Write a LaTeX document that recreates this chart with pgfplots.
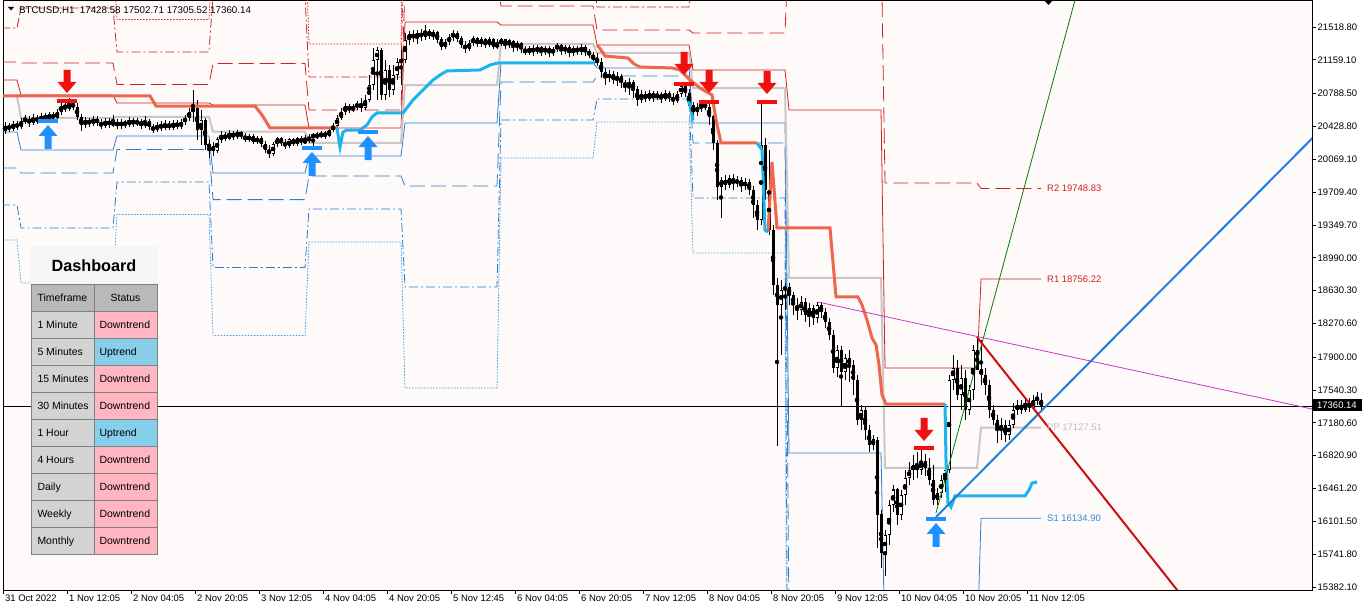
\documentclass[border=0pt]{standalone}
\usepackage{fontspec}
\setmainfont{Liberation Sans}
\usepackage{pgfplots}
\pgfplotsset{compat=1.18}
\usepackage{pgfplotstable}

\definecolor{bgpink}{RGB}{255,250,250}
\definecolor{pivR}{RGB}{208,32,32}
\definecolor{pivS}{RGB}{40,128,210}
\definecolor{pivS4}{RGB}{60,160,225}
\definecolor{ppgrey}{RGB}{200,200,200}
\definecolor{trailor}{RGB}{238,102,78}
\definecolor{trailcy}{RGB}{28,180,236}
\definecolor{tlblue}{RGB}{30,130,220}
\definecolor{tlred}{RGB}{205,15,15}
\definecolor{tlmag}{RGB}{205,50,205}
\definecolor{tlgreen}{RGB}{0,128,0}
\definecolor{arrred}{RGB}{240,16,16}
\definecolor{arrblue}{RGB}{30,144,255}
\definecolor{hdrgrey}{RGB}{185,185,185}
\definecolor{tfgrey}{RGB}{211,211,211}
\definecolor{dnpink}{RGB}{255,182,193}
\definecolor{upblue}{RGB}{135,206,235}
\definecolor{titlebg}{RGB}{245,245,245}
\definecolor{cellborder}{RGB}{128,128,128}
\definecolor{labgrey}{RGB}{190,190,190}
\definecolor{labblue}{RGB}{50,140,220}

\newcommand\tickfont{\fontsize{9.5}{11}\selectfont}
\newcommand\dashfont{\fontsize{10.5}{12}\selectfont}

\pgfdeclareplotmark{dnarrow}{%
  \pgfpathmoveto{\pgfqpoint{0bp}{0bp}}%
  \pgfpathlineto{\pgfqpoint{9.5bp}{11bp}}%
  \pgfpathlineto{\pgfqpoint{3.5bp}{11bp}}%
  \pgfpathlineto{\pgfqpoint{3.5bp}{23bp}}%
  \pgfpathlineto{\pgfqpoint{-3.5bp}{23bp}}%
  \pgfpathlineto{\pgfqpoint{-3.5bp}{11bp}}%
  \pgfpathlineto{\pgfqpoint{-9.5bp}{11bp}}%
  \pgfpathclose\pgfusepathqfill}
\pgfdeclareplotmark{uparrow}{%
  \pgfpathmoveto{\pgfqpoint{0bp}{0bp}}%
  \pgfpathlineto{\pgfqpoint{9.5bp}{-11bp}}%
  \pgfpathlineto{\pgfqpoint{3.5bp}{-11bp}}%
  \pgfpathlineto{\pgfqpoint{3.5bp}{-24bp}}%
  \pgfpathlineto{\pgfqpoint{-3.5bp}{-24bp}}%
  \pgfpathlineto{\pgfqpoint{-3.5bp}{-11bp}}%
  \pgfpathlineto{\pgfqpoint{-9.5bp}{-11bp}}%
  \pgfpathclose\pgfusepathqfill}
\pgfdeclareplotmark{hbar}{%
  \pgfpathrectangle{\pgfqpoint{-10bp}{-1.8bp}}{\pgfqpoint{20bp}{3.6bp}}\pgfusepathqfill}

% BTCUSD H1 candles: bar index, open, high, low, close
\pgfplotstableread{
x o h l c
0 20379 20478 20346 20434
1 20434 20467 20368 20401
2 20401 20489 20379 20456
3 20456 20489 20390 20423
4 20423 20522 20401 20489
5 20489 20555 20456 20511
6 20511 20544 20423 20467
7 20467 20566 20445 20522
8 20522 20555 20456 20489
9 20489 20577 20467 20544
10 20544 20577 20478 20511
11 20511 20587 20489 20555
12 20555 20587 20489 20522
13 20522 20620 20500 20587
14 20587 20697 20555 20653
15 20653 20708 20587 20620
16 20620 20741 20598 20675
17 20675 20719 20609 20642
18 20642 20686 20500 20533
19 20533 20566 20379 20445
20 20445 20533 20412 20500
21 20500 20522 20423 20456
22 20456 20544 20434 20511
23 20511 20544 20434 20467
24 20467 20511 20401 20434
25 20434 20522 20412 20489
26 20489 20522 20412 20445
27 20445 20555 20423 20477
28 20477 20511 20401 20434
29 20434 20511 20401 20478
30 20478 20500 20412 20445
31 20445 20533 20423 20500
32 20500 20522 20423 20456
33 20456 20522 20434 20489
34 20489 20511 20401 20434
35 20434 20544 20412 20489
36 20489 20511 20390 20423
37 20423 20456 20357 20390
38 20390 20478 20368 20445
39 20445 20489 20379 20412
40 20412 20500 20390 20456
41 20456 20489 20390 20412
42 20412 20500 20390 20467
43 20467 20500 20401 20423
44 20423 20511 20401 20478
45 20478 20555 20445 20522
46 20522 20631 20489 20587
47 20587 20829 20478 20631
48 20631 20719 20281 20390
49 20390 20609 20226 20500
50 20500 20522 20171 20226
51 20226 20281 20083 20207
52 20207 20259 20105 20160
53 20160 20313 20140 20281
54 20281 20379 20248 20335
55 20335 20368 20270 20292
56 20292 20390 20281 20357
57 20357 20379 20281 20313
58 20313 20390 20292 20368
59 20368 20379 20292 20324
60 20324 20357 20259 20281
61 20281 20346 20259 20324
62 20324 20346 20237 20259
63 20259 20324 20237 20302
64 20302 20324 20204 20237
65 20237 20270 20140 20171
66 20171 20226 20084 20127
67 20127 20259 20105 20237
68 20237 20313 20204 20292
69 20292 20313 20215 20248
70 20248 20292 20182 20215
71 20215 20302 20193 20281
72 20281 20302 20215 20237
73 20237 20313 20215 20292
74 20292 20324 20226 20259
75 20259 20335 20237 20269
76 20269 20346 20248 20313
77 20313 20357 20192 20335
78 20335 20368 20292 20313
79 20313 20379 20302 20357
80 20357 20379 20292 20324
81 20324 20412 20313 20390
82 20390 20467 20368 20434
83 20434 20555 20412 20522
84 20522 20631 20500 20587
85 20587 20686 20555 20653
86 20653 20675 20577 20609
87 20609 20675 20587 20642
88 20642 20708 20609 20675
89 20675 20741 20587 20631
90 20631 20774 20609 20719
91 20719 20993 20697 20883
92 20883 21289 20829 21157
93 21157 21299 20719 21267
94 21267 21289 20719 20774
95 20774 21157 20719 21048
96 21048 21103 20752 20829
97 20829 21103 20774 20993
98 20993 21179 20938 21135
99 21135 21267 20883 21158
100 21158 21453 21125 21377
101 21377 21475 21322 21442
102 21442 21486 21355 21398
103 21398 21486 21333 21453
104 21453 21497 21366 21409
105 21409 21541 21377 21475
106 21475 21497 21388 21420
107 21420 21486 21377 21464
108 21464 21475 21344 21377
109 21377 21409 21267 21300
110 21300 21388 21278 21355
111 21355 21442 21322 21409
112 21409 21486 21366 21453
113 21453 21475 21355 21388
114 21388 21420 21289 21322
115 21322 21366 21234 21278
116 21278 21377 21256 21344
117 21344 21420 21311 21388
118 21388 21409 21300 21333
119 21333 21409 21300 21377
120 21377 21398 21289 21322
121 21322 21409 21300 21377
122 21377 21398 21278 21300
123 21300 21388 21278 21333
124 21333 21398 21311 21377
125 21377 21388 21278 21322
126 21322 21388 21289 21366
127 21366 21377 21245 21300
128 21300 21366 21256 21344
129 21344 21355 21234 21278
130 21278 21311 21212 21234
131 21234 21311 21212 21289
132 21289 21322 21201 21245
133 21245 21322 21223 21300
134 21300 21311 21201 21245
135 21245 21311 21212 21289
136 21289 21311 21190 21234
137 21234 21300 21201 21278
138 21278 21344 21245 21322
139 21322 21333 21212 21256
140 21256 21322 21223 21300
141 21300 21322 21190 21234
142 21234 21311 21201 21289
143 21289 21311 21212 21245
144 21245 21333 21212 21300
145 21300 21322 21201 21256
146 21256 21278 21179 21212
147 21212 21245 21146 21158
148 21158 21234 21092 21135
149 21135 21179 20960 21026
150 21026 21070 20883 20960
151 20960 21048 20916 21004
152 21004 21037 20894 20938
153 20938 21026 20872 20982
154 20982 21004 20850 20905
155 20905 20938 20807 20872
156 20872 20960 20774 20916
157 20916 20938 20741 20829
158 20829 20872 20653 20719
159 20719 20829 20686 20785
160 20785 20818 20697 20730
161 20730 20829 20708 20796
162 20796 20818 20697 20741
163 20741 20818 20719 20785
164 20785 20807 20686 20730
165 20730 20829 20708 20796
166 20796 20818 20697 20741
167 20741 20796 20664 20708
168 20708 20818 20686 20785
169 20785 20905 20752 20872
170 20872 20894 20752 20796
171 20796 20840 20655 20663
172 20663 20700 20522 20587
173 20587 20686 20544 20642
174 20642 20697 20587 20675
175 20675 20697 20609 20642
176 20642 20686 20445 20533
177 20533 20555 20171 20248
178 20248 20281 19623 19765
179 19765 19875 19426 19842
180 19842 19897 19733 19787
181 19787 19897 19754 19864
182 19864 19908 19733 19809
183 19809 19886 19765 19842
184 19842 19875 19711 19776
185 19776 19864 19733 19820
186 19820 19853 19678 19733
187 19733 19776 19426 19568
188 19568 19623 19294 19404
189 19404 20708 19349 20226
190 20226 20302 19623 19733
191 19733 20171 19239 19294
192 19294 19349 18582 18691
193 18691 18768 16927 18472
194 18472 18746 17924 18637
195 18637 18713 18417 18669
196 18669 18713 18472 18582
197 18582 18615 18363 18472
198 18472 18549 18308 18417
199 18417 18571 18363 18505
200 18505 18549 18286 18363
201 18363 18494 18231 18439
202 18439 18472 18253 18330
203 18330 18505 18275 18472
204 18472 18505 18330 18395
205 18395 18439 18220 18286
206 18286 18330 18089 18143
207 18143 18198 17727 17782
208 17782 18034 17683 17979
209 17979 18023 17354 17738
210 17738 17935 17650 17891
211 17891 17979 17628 17815
212 17815 17869 17486 17650
213 17650 17705 17157 17212
214 17212 17376 17102 17321
215 17321 17365 16993 17102
216 17102 17157 16861 16938
217 16938 17047 16883 16993
218 16993 17026 15809 16171
219 16171 16225 15590 15755
220 15755 16006 15498 15951
221 15951 16335 15842 16280
222 16280 16499 16204 16445
223 16445 16467 16061 16171
224 16171 16445 16116 16390
225 16390 16664 16280 16576
226 16576 16752 16499 16664
227 16664 16828 16554 16708
228 16708 16861 16576 16664
229 16664 16883 16609 16752
230 16752 16839 16598 16686
231 16686 16795 16499 16554
232 16554 16719 16280 16335
233 16335 16467 16280 16412
234 16412 16609 16357 16554
235 16554 16719 16423 16664
236 16664 17705 16631 17650
237 17650 17924 17541 17782
238 17782 17869 17431 17486
239 17486 17815 17321 17672
240 17672 17760 17212 17321
241 17321 17595 17267 17541
242 17541 18034 17431 17979
243 17979 18120 17760 17765
244 17765 18089 17595 17705
245 17705 17782 17486 17595
246 17595 17650 17234 17321
247 17321 17376 17157 17212
248 17212 17267 16960 17102
249 17102 17234 16993 17157
250 17157 17212 16971 17047
251 17047 17212 16993 17157
252 17157 17398 17124 17321
253 17321 17431 17267 17376
254 17376 17431 17278 17321
255 17321 17453 17299 17398
256 17398 17453 17299 17343
257 17343 17486 17321 17431
258 17431 17519 17376 17453
259 17428.58 17502.71 17305.52 17360.14
}\candles

% daily pivot levels (first and last bar of each day)
\pgfplotstableread{
x PP R1 R2 R3 R4 S1 S2 S3 S4
-1 20763 20938 21135 21508 21903 20368 19974 19568 19185
3 20763 20938 21135 21508 21903 20368 19974 19568 19185
4 20522 20774 21125 21727 22330 20171 19919 19316 18713
27 20522 20774 21125 21727 22330 20171 19919 19316 18713
28 20533 20686 20889 21245 21601 20324 20176 19820 19464
51 20533 20686 20889 21245 21601 20324 20176 19820 19464
52 20373 20664 21118 21863 22604 19919 19627 18882 18137
75 20373 20664 21118 21863 22604 19919 19627 18882 18137
76 20248 20412 20609 20971 21333 20105 19886 19524 19163
99 20248 20412 20609 20971 21333 20105 19886 19524 19163
100 20883 21574 21990 23097 24204 20467 19776 18670 17563
123 20883 21574 21990 23097 24204 20467 19776 18670 17563
124 21333 21541 21749 22166 22582 21125 20916 20500 20083
147 21333 21541 21749 22166 22582 21125 20916 20500 20083
148 21234 21322 21486 21738 21990 21070 20982 20730 20478
171 21234 21322 21486 21738 21990 21070 20982 20730 20478
172 20850 21048 21453 22056 22659 20467 20248 19645 19042
195 20850 21048 21453 22056 22659 20467 20248 19645 19042
196 18768 20609 22527 26287 30000 16850 15009 11250 7000
219 18768 20609 22527 26287 30000 16850 15009 11250 7000
220 16686 17782 19809 22933 26056 14658 13562 10438 7300
243 16686 17782 19809 22933 26056 14658 13562 10438 7300
244 17127.51 18756.22 19748.83 22370.15 24991.47 16134.90 14506.19 11884.87 9263.55
259 17127.51 18756.22 19748.83 22370.15 24991.47 16134.90 14506.19 11884.87 9263.55
}\pivots

\begin{document}
\begin{tikzpicture}
\begin{axis}[
  at={(0,0)}, anchor=south west,
  scale only axis, width=1309bp, height=590bp,
  xmin=-0.5, xmax=326.75, ymin=15348.6, ymax=21815,
  scaled x ticks=false, scaled y ticks=false,
  axis background/.style={fill=bgpink},
  axis line style={black, line width=0.8bp},
  xtick pos=left, ytick pos=right, yticklabel pos=right,
  tick align=outside, major tick length=4bp,
  every tick/.style={black, line width=0.8bp},
  minor tick num=0,
  xtick={-0.5,15.5,31.5,47.5,63.5,79.5,95.5,111.5,127.5,143.5,159.5,175.5,191.5,207.5,223.5,239.5,255.5},
  xticklabels={31 Oct 2022,1 Nov 12:05,2 Nov 04:05,2 Nov 20:05,3 Nov 12:05,4 Nov 04:05,4 Nov 20:05,5 Nov 12:45,6 Nov 04:05,6 Nov 20:05,7 Nov 12:05,8 Nov 04:05,8 Nov 20:05,9 Nov 12:05,10 Nov 04:05,10 Nov 20:05,11 Nov 12:05},
  ytick={15382.1,15741.8,16101.5,16461.2,16820.9,17180.6,17540.3,17900,18270.6,18630.3,18990,19349.7,19709.4,20069.1,20428.8,20788.5,21159.1,21518.8},
  yticklabels={15382.10,15741.80,16101.50,16461.20,16820.90,17180.60,17540.30,17900.00,18270.60,18630.30,18990.00,19349.70,19709.40,20069.10,20428.80,20788.50,21159.10,21518.80},
  tick label style={font=\tickfont},
  xticklabel style={anchor=north west, inner sep=1bp, xshift=1bp},
  yticklabel style={anchor=west, inner sep=1.5bp},
]
% pivot support lines
\addplot[forget plot, pivS4, line width=0.8bp, dash pattern=on 1.5bp off 1.5bp] table[x=x,y=S4]{\pivots};
\addplot[forget plot, pivS, line width=0.8bp, dash pattern=on 9bp off 3bp on 2bp off 3bp] table[x=x,y=S3]{\pivots};
\addplot[forget plot, pivS, line width=0.8bp, dash pattern=on 15bp off 6bp] table[x=x,y=S2]{\pivots};
\addplot[forget plot, pivS, line width=0.8bp] table[x=x,y=S1]{\pivots};
% pivot resistance lines
\addplot[forget plot, pivR, line width=0.8bp, dash pattern=on 1.5bp off 1.5bp] table[x=x,y=R4]{\pivots};
\addplot[forget plot, pivR, line width=0.8bp, dash pattern=on 9bp off 3bp on 2bp off 3bp] table[x=x,y=R3]{\pivots};
\addplot[forget plot, pivR, line width=0.8bp, dash pattern=on 15bp off 6bp] table[x=x,y=R2]{\pivots};
\addplot[forget plot, pivR, line width=0.8bp] table[x=x,y=R1]{\pivots};
% pivot point
\addplot[forget plot, ppgrey, line width=2bp] table[x=x,y=PP]{\pivots};

% current price line
\addplot[forget plot, black, line width=0.8bp] coordinates {(-0.5,17360.14) (326.75,17360.14)};

% candles: wicks
\addplot[forget plot, only marks, mark=none,
  error bars/.cd, y dir=both, y explicit, error mark=none,
  error bar style={solid, line width=1bp, black}]
  table[x=x, y expr={(\thisrow{h}+\thisrow{l})/2}, y error expr={(\thisrow{h}-\thisrow{l})/2}]{\candles};
% candles: bodies
\addplot[forget plot, only marks, mark=none,
  error bars/.cd, y dir=both, y explicit, error mark=none,
  error bar style={solid, line width=3bp, black}]
  table[x=x, y expr={(\thisrow{o}+\thisrow{c})/2}, y error expr={abs(\thisrow{o}-\thisrow{c})/2+5}]{\candles};
% candles: hollow interior of up candles
\addplot[forget plot, only marks, mark=none,
  error bars/.cd, y dir=both, y explicit, error mark=none,
  error bar style={solid, line width=1.2bp, white}]
  table[x=x, y expr={(\thisrow{o}+\thisrow{c})/2}, y error expr={max((\thisrow{c}-\thisrow{o})/2-6,0)}]{\candles};

% trailing line (down phase)
\addplot[forget plot, trailor, line width=3bp] coordinates {
(-0.5,20763) (36.25,20763) (37.75,20653) (62.5,20653) (64.25,20555) (66.25,20412) (83.25,20412)};
\addplot[forget plot, trailor, line width=3bp] coordinates {
(148,21322) (149,21267) (150,21201) (155.75,21179) (157.25,21114) (158.75,21081) (166.75,21070)
(168.75,21048) (171.25,20938) (173.75,20850) (176.75,20774) (177.75,20500) (179,20248) (188,20248)};
\addplot[forget plot, trailor, line width=3bp] coordinates {
(190.75,19272) (191.75,20039) (193,19316) (206.25,19316) (207.75,18560) (213.25,18560) (214.25,18472)
(215.5,18308) (216.75,18111) (217.75,18034) (218.5,17815) (219.25,17486) (220.25,17387) (235,17387)};
% trailing line (up phase)
\addplot[forget plot, trailcy, line width=3bp] coordinates {
(83,20412) (83.75,20204) (84.5,20368) (85.5,20390) (88.75,20390) (90.5,20445) (91.75,20533) (93,20577)
(99.5,20577) (102,20719) (104.5,20829) (107,20938) (108.75,20993) (110.5,21037) (118.75,21048)
(121.25,21103) (123.25,21125) (147.5,21125)};
\addplot[forget plot, trailcy, line width=3bp] coordinates {(170.5,20741) (171.25,20664) (172,20500)};
\addplot[forget plot, trailcy, line width=3bp] coordinates {(188,20248) (189.25,20171) (190,19294) (190.75,19272)};
\addplot[forget plot, trailcy, line width=3bp] coordinates {
(235,17387) (235.25,16773) (235.75,16302) (236.5,16258) (237.5,16379) (255,16379) (256,16445) (256.75,16521) (258,16532)};

% trend lines
\addplot[forget plot, tlmag, line width=0.8bp] coordinates {(203.25,18505) (326.75,17332)};
\addplot[forget plot, tlgreen, line width=0.8bp] coordinates {(232.75,16193) (272,22544)};
\addplot[forget plot, tlblue, line width=2bp] coordinates {(232.75,16149) (330,20440)};
\addplot[forget plot, tlred, line width=2bp] coordinates {(243,18120) (300,14962)};

% signal arrows
\addplot[forget plot, only marks, mark=hbar, arrred] coordinates {(15.5,20708) (169.75,20894) (176,20697) (190.5,20697) (229.75,16905)};
\addplot[forget plot, only marks, mark=dnarrow, arrred] coordinates {(15.5,20796) (169.75,20993) (176,20796) (190.5,20785) (229.75,16982)};
\addplot[forget plot, only marks, mark=hbar, arrblue] coordinates {(10.75,20489) (76.75,20193) (90.75,20368) (232.75,16127)};
\addplot[forget plot, only marks, mark=uparrow, arrblue] coordinates {(10.75,20445) (76.75,20149) (90.75,20324) (232.75,16083)};

% level labels
\node[anchor=west, inner sep=0pt, text=pivR, font=\tickfont] at (axis cs:260.5,19748.83) {R2 19748.83};
\node[anchor=west, inner sep=0pt, text=pivR, font=\tickfont] at (axis cs:260.5,18756.22) {R1 18756.22};
\node[anchor=west, inner sep=0pt, text=labgrey, font=\tickfont] at (axis cs:260.5,17127.51) {PP 17127.51};
\node[anchor=west, inner sep=0pt, text=labblue, font=\tickfont] at (axis cs:260.5,16134.90) {S1 16134.90};
\end{axis}

\begin{scope}[x=1bp, y=-1bp, shift={(-3bp,590bp)}]
  % header text
  \fill[black] (8,7) -- (14,7) -- (11,10.5) -- cycle;
  \node[anchor=base west, inner sep=0pt, font=\fontsize{9.8}{11}\selectfont] at (19,14) {BTCUSD,H1\ \ 17428.58 17502.71 17305.52 17360.14};
  % chart shift marker
  \fill[black] (1044,0) -- (1053,0) -- (1048.5,5) -- cycle;
  % current price box
  \fill[black] (1312,399.5) rectangle (1362,411);
  \node[anchor=base west, inner sep=0pt, text=white, font=\tickfont] at (1317,408.5) {17360.14};
  % dashboard
  \fill[titlebg] (31,246) rectangle (157,284.5);
  \node[font=\fontsize{16.3}{18}\selectfont\bfseries] at (94,265.5) {Dashboard};
  \filldraw[fill=hdrgrey, draw=cellborder, line width=1bp] (31,284.5) rectangle (94,311.5);
  \filldraw[fill=hdrgrey, draw=cellborder, line width=1bp] (94,284.5) rectangle (157,311.5);
  \node[anchor=base west, font=\dashfont] at (34,302) {Timeframe};
  \node[anchor=base, font=\dashfont] at (125.5,302) {Status};
  \foreach \k/\tf/\st/\sc in {1/1 Minute/Downtrend/dnpink, 2/5 Minutes/Uptrend/upblue, 3/15 Minutes/Downtrend/dnpink, 4/30 Minutes/Downtrend/dnpink, 5/1 Hour/Uptrend/upblue, 6/4 Hours/Downtrend/dnpink, 7/Daily/Downtrend/dnpink, 8/Weekly/Downtrend/dnpink, 9/Monthly/Downtrend/dnpink}{
    \filldraw[fill=tfgrey, draw=cellborder, line width=1bp] (31,284.5+27*\k) rectangle (94,311.5+27*\k);
    \filldraw[fill=\sc, draw=cellborder, line width=1bp] (94,284.5+27*\k) rectangle (157,311.5+27*\k);
    \node[anchor=base west, font=\dashfont] at (34,302+27*\k) {\tf};
    \node[anchor=base west, font=\dashfont] at (96,302+27*\k) {\st};
  }
\end{scope}
\pgfresetboundingbox
\path (-3bp,-20bp) rectangle (1362bp,590bp);
\end{tikzpicture}
\end{document}
